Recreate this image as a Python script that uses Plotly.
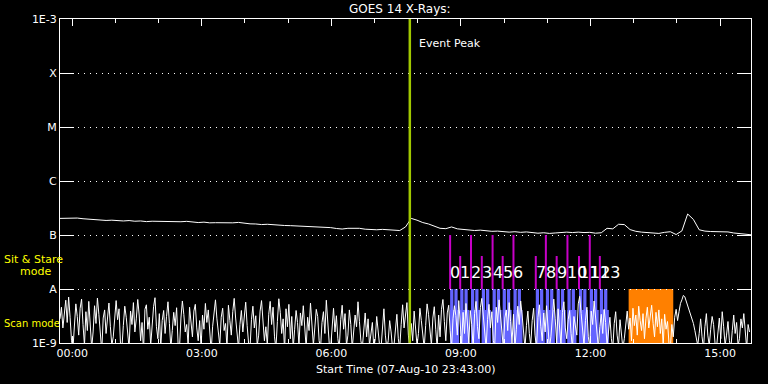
import pandas as pd
import plotly.graph_objects as go

START = "2010-08-07 23:43"
END = "2010-08-08 15:43"

# GOES 14 long channel flux, 8-minute samples (units of 1e-7 W/m^2)
goes_flux_e7 = [
    2.03, 2.06, 2.09, 2.06, 2.00, 1.95, 1.92, 1.90, 1.86, 1.88, 1.84, 1.82,
    1.85, 1.80, 1.82, 1.77, 1.80, 1.79, 1.76, 1.78, 1.74, 1.76, 1.79, 1.72,
    1.70, 1.73, 1.68, 1.69, 1.67, 1.65, 1.68, 1.71, 1.64, 1.61, 1.60, 1.56,
    1.58, 1.54, 1.53, 1.50, 1.49, 1.47, 1.46, 1.43, 1.44, 1.41, 1.40, 1.37,
    1.32, 1.29, 1.33, 1.35, 1.33, 1.28, 1.26, 1.25, 1.27, 1.24, 1.23, 1.21,
    1.41, 2.03, 1.88, 1.70, 1.60, 1.44, 1.33, 1.31, 1.41, 1.30, 1.26, 1.24,
    1.21, 1.23, 1.19, 1.17, 1.18, 1.15, 1.13, 1.15, 1.12, 1.14, 1.11, 1.08,
    1.10, 1.07, 1.09, 1.11, 1.13, 1.11, 1.13, 1.11, 1.12, 1.08, 1.10, 1.33,
    1.30, 1.58, 1.56, 1.26, 1.17, 1.13, 1.11, 1.08, 1.07, 1.12, 1.15, 1.02,
    1.19, 2.45, 1.94, 1.25, 1.18, 1.16, 1.15, 1.13, 1.14, 1.09, 1.07, 1.02,
    1.01,
]

# Noisy low-level trace, 2-minute samples (units of 1e-9)
noise_flux_e9 = [
    2.8, 4.6, 1.9, 3.5, 6.2, 2.4, 7.1, 3.0, 1.1, 0.8, 2.6, 5.3, 3.1, 1.4, 4.4, 6.5, 2.2, 0.9, 3.8, 1.7, 5.9, 2.5, 0.8, 1.6,
    4.9, 2.3, 6.8, 3.4, 1.2, 0.7, 2.9, 4.1, 1.5, 3.6, 5.5, 2.0, 0.9, 1.3, 3.2, 6.1, 2.7, 4.3, 1.0, 0.8, 2.1, 4.8, 3.0, 1.4,
    0.8, 3.9, 2.2, 5.6, 1.6, 2.8, 6.4, 3.3, 1.1, 2.4, 0.7, 4.2, 5.1, 1.8, 3.0, 0.9, 2.5, 4.7, 6.9, 2.0, 1.2, 3.5, 0.8, 2.6,
    4.0, 1.5, 3.1, 5.8, 2.3, 0.8, 1.7, 3.7, 2.1, 4.5, 1.0, 0.8, 2.9, 6.0, 3.4, 1.6, 2.2, 0.9, 4.6, 2.7, 1.3, 3.9, 5.2, 1.9,
    1.1, 2.6, 0.8, 3.3, 1.8, 5.4, 2.4, 4.1, 1.2, 0.7, 2.0, 3.6, 6.3, 2.8, 1.5, 0.9, 3.0, 4.4, 1.7, 2.3, 0.8, 5.0, 2.6, 1.4,
    3.8, 6.7, 2.9, 1.3, 0.8, 2.2, 4.0, 1.6, 3.5, 5.7, 2.1, 1.0, 0.8, 2.7, 4.8, 1.9, 3.2, 0.9, 1.4, 3.9, 6.1, 2.5, 1.1, 2.0,
    0.9, 3.4, 5.9, 2.2, 4.6, 1.3, 0.8, 2.5, 6.6, 3.7, 1.5, 2.8, 0.7, 4.3, 2.0, 5.2, 1.2, 3.1, 0.8, 1.8, 4.0, 2.4, 0.9, 3.6,
    2.1, 4.9, 1.4, 0.8, 3.0, 1.7, 5.5, 2.6, 0.9, 1.9, 4.2, 3.1, 1.1, 0.8, 2.4, 3.8, 1.5, 6.2, 2.9, 1.0, 0.8, 2.3, 4.4, 1.6,
    3.2, 1.2, 0.8, 2.7, 5.0, 1.8, 3.5, 0.9, 1.4, 4.1, 2.2, 0.8, 1.6, 3.3, 2.0, 5.8, 2.5, 1.1, 0.8, 1.9, 3.6, 1.3, 2.8, 0.9,
    1.5, 2.4, 0.8, 1.2, 3.1, 1.7, 0.9, 0.8, 2.0, 4.3, 1.4, 0.8, 1.1, 2.6, 1.6, 0.8, 0.9, 1.8, 3.4, 1.2, 0.8, 2.2, 5.1, 1.9,
    3.0, 5.6, 1.4, 0.8, 2.3, 1.1, 3.9, 2.0, 0.9, 1.5, 4.4, 2.6, 1.2, 0.8, 2.1, 5.3, 3.4, 1.6, 0.9, 2.9, 4.7, 1.8, 0.8, 3.3,
    1.3, 4.2, 6.4, 2.5, 1.1, 3.6, 5.0, 1.7, 0.8, 2.8, 4.9, 3.2, 1.4, 6.1, 2.3, 0.9, 3.7, 1.5, 5.4, 2.6, 1.0, 4.0, 2.2, 0.8,
    3.5, 5.9, 2.0, 1.2, 4.5, 6.7, 3.0, 1.6, 0.8, 2.7, 5.2, 1.9, 3.8, 1.1, 0.9, 4.6, 2.4, 6.3, 3.1, 1.3, 0.8, 2.9, 4.1, 1.7,
    5.6, 2.5, 1.0, 3.4, 0.8, 1.8, 4.8, 2.2, 6.0, 3.3, 1.2, 0.8, 2.1, 3.9, 1.5, 0.9, 2.6, 4.4, 1.4, 0.8, 3.0, 5.1, 2.0, 1.1,
    3.6, 1.6, 4.9, 2.4, 0.8, 1.3, 3.2, 6.5, 2.8, 1.0, 4.3, 2.1, 0.9, 3.7, 5.8, 1.9, 1.2, 2.7, 4.0, 1.5, 0.8, 3.1, 2.0, 1.4,
    5.3, 7.3, 3.5, 1.7, 0.9, 2.6, 4.6, 1.3, 0.8, 3.9, 2.2, 6.0, 2.9, 1.1, 0.8, 2.0, 3.4, 1.5, 4.2, 2.4, 0.9, 1.6, 3.0, 1.2,
    0.8, 2.3, 3.8, 1.4, 0.9, 2.7, 1.6, 0.8, 1.2, 2.5, 3.9, 1.8, 2.9, 1.1, 4.4, 2.1, 3.3, 1.4, 4.8, 2.6, 1.7, 3.5, 1.2, 2.8,
    4.6, 1.9, 3.2, 5.0, 2.3, 1.3, 3.7, 2.0, 4.1, 1.5, 2.8, 0.9, 3.4, 1.8, 2.5, 1.0, 0.8, 2.2, 1.3, 3.0, 4.2, 2.6, 3.8, 5.4,
    6.3, 7.6, 7.2, 6.0, 5.1, 4.3, 3.6, 2.9, 2.3, 1.7, 1.2, 0.9, 1.5, 2.8, 1.3, 0.8, 2.0, 3.5, 1.4, 0.9, 1.8, 3.1, 2.2, 1.0,
    0.8, 1.6, 2.9, 1.2, 3.8, 2.0, 0.9, 1.4, 2.5, 1.1, 0.8, 1.7, 3.3, 1.5, 2.4, 0.9, 1.2, 2.8, 1.9, 3.5, 1.3, 0.8, 2.2, 1.6,
]

event_peak = "2010-08-08 07:49"
event_label = "Event Peak"

scan_times = [
    "2010-08-08 08:45", "2010-08-08 08:59", "2010-08-08 09:14", "2010-08-08 09:29",
    "2010-08-08 09:44", "2010-08-08 09:58", "2010-08-08 10:13", "2010-08-08 10:44",
    "2010-08-08 10:58", "2010-08-08 11:13", "2010-08-08 11:28", "2010-08-08 11:44",
    "2010-08-08 11:59", "2010-08-08 12:13",
]
scan_labels = [str(i) for i in range(len(scan_times))]
stare_start = "2010-08-08 12:53"
stare_end = "2010-08-08 13:55"

ytick_vals = [1e-9, 1e-8, 1e-7, 1e-6, 1e-5, 1e-4, 1e-3]
ytick_text = ["1E-9", "A", "B", "C", "M", "X", "1E-3"]

FONT = "DejaVu Sans"
MAGENTA = "#c800c8"
BLUE = "#6464ff"
ORANGE = "#ff8000"
LIME = "#a0c800"
YELLOW = "#ffff00"

goes_t = pd.date_range(START, periods=len(goes_flux_e7), freq="8min")
noise_t = pd.date_range(START, periods=len(noise_flux_e9), freq="2min")

fig = go.Figure()

# scan-mode blue blocks and sit&stare orange block (between grid and traces)
shapes = []
A_PAPER = 1 / 6
LOW_PAPER = 0.102
for t in scan_times:
    t0 = pd.Timestamp(t)
    for a, b in [(0, 4.5), (5.9, 10.4)]:
        shapes.append(dict(type="rect", xref="x", yref="paper",
                           x0=t0 + pd.Timedelta(minutes=a), x1=t0 + pd.Timedelta(minutes=b),
                           y0=0, y1=A_PAPER, fillcolor=BLUE, line_width=0, layer="between"))
    shapes.append(dict(type="rect", xref="x", yref="paper",
                       x0=t0, x1=t0 + pd.Timedelta(minutes=12.5),
                       y0=0, y1=LOW_PAPER, fillcolor=BLUE, line_width=0, layer="between"))
shapes.append(dict(type="rect", xref="x", yref="paper", x0=stare_start, x1=stare_end,
                   y0=0, y1=A_PAPER, fillcolor=ORANGE, line_width=0, layer="between"))

# noise trace
fig.add_trace(go.Scatter(x=noise_t, y=[v * 1e-9 for v in noise_flux_e9], mode="lines",
                         line=dict(color="white", width=1), hoverinfo="skip", showlegend=False))
# GOES trace
fig.add_trace(go.Scatter(x=goes_t, y=[v * 1e-7 for v in goes_flux_e7], mode="lines",
                         line=dict(color="white", width=1), hoverinfo="skip", showlegend=False))

# magenta scan markers
mx, my = [], []
for i, t in enumerate(scan_times):
    top = 1e-7 if i % 2 == 0 else 4.08e-8
    mx += [t, t, None]
    my += [1e-8, top, None]
fig.add_trace(go.Scatter(x=mx, y=my, mode="lines", line=dict(color=MAGENTA, width=2),
                         hoverinfo="skip", showlegend=False))

# event peak line
fig.add_trace(go.Scatter(x=[event_peak, event_peak], y=[1e-9, 1e-3], mode="lines",
                         line=dict(color=LIME, width=2.5), hoverinfo="skip", showlegend=False))

annotations = []
for t, lab in zip(scan_times, scan_labels):
    annotations.append(dict(x=t, xref="x", y=0.219, yref="paper", text=lab, showarrow=False,
                            xanchor="left", yanchor="middle", xshift=-2,
                            font=dict(family=FONT, size=16, color="white")))
annotations += [
    dict(x=event_peak, xref="x", y=0.923, yref="paper", text=event_label, showarrow=False,
         xanchor="left", yanchor="middle", xshift=7, font=dict(family=FONT, size=11, color="white")),
    dict(x=0.492, xref="paper", y=1.031, yref="paper", text="GOES 14 X-Rays:", showarrow=False,
         xanchor="center", yanchor="middle", font=dict(family=FONT, size=12, color="white")),
    dict(x=0.5, xref="paper", y=-0.083, yref="paper", text="Start Time (07-Aug-10 23:43:00)",
         showarrow=False, xanchor="center", yanchor="middle",
         font=dict(family=FONT, size=11, color="white")),
    dict(x=-0.084, xref="paper", y=0.259, yref="paper", text="Sit & Stare", showarrow=False,
         xanchor="left", yanchor="middle", font=dict(family=FONT, size=11, color=YELLOW)),
    dict(x=-0.035, xref="paper", y=0.222, yref="paper", text="mode", showarrow=False,
         xanchor="center", yanchor="middle", font=dict(family=FONT, size=11, color=YELLOW)),
    dict(x=-0.084, xref="paper", y=0.059, yref="paper", text="Scan mode", showarrow=False,
         xanchor="left", yanchor="middle", font=dict(family=FONT, size=10, color=YELLOW)),
]

fig.update_layout(
    width=768, height=384,
    margin=dict(l=60, r=17, t=19, b=41),
    paper_bgcolor="black", plot_bgcolor="black",
    font=dict(family=FONT, size=11, color="white"),
    shapes=shapes, annotations=annotations, showlegend=False,
)
fig.update_xaxes(
    type="date", range=[START, END], tickformat="%H:%M",
    tick0="2010-08-08 00:00", dtick=3 * 3600000,
    ticks="inside", ticklen=7, tickcolor="white", mirror="ticks",
    showline=True, linecolor="white", linewidth=1, showgrid=False, zeroline=False,
    tickfont=dict(family=FONT, size=11, color="white"),
    minor=dict(dtick=3600000, ticks="inside", ticklen=4, tickcolor="white", showgrid=False),
)
fig.update_yaxes(
    type="log", range=[-9, -3], tickvals=ytick_vals, ticktext=ytick_text,
    ticks="inside", ticklen=14, tickcolor="white", mirror="ticks",
    showline=True, linecolor="white", linewidth=1,
    showgrid=True, gridcolor="white", gridwidth=1, griddash="1px,5px", zeroline=False,
    tickfont=dict(family=FONT, size=11, color="white"),
)

fig.write_html("out.html")
